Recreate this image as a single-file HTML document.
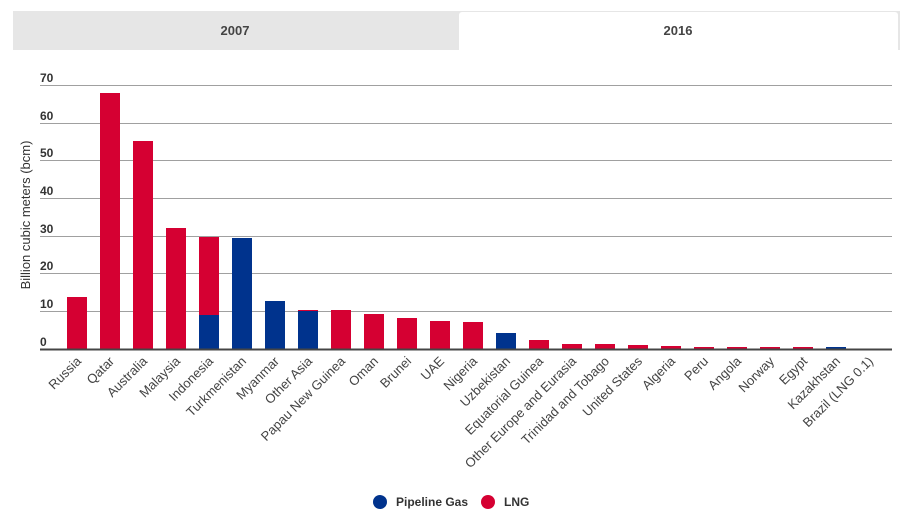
<!DOCTYPE html>
<html><head><style>
body{margin:0;background:#fff;width:913px;height:519px;overflow:hidden;font-family:"Liberation Sans",Arial,sans-serif}
</style></head><body>
<svg width="913" height="519" xmlns="http://www.w3.org/2000/svg" font-family="Liberation Sans, Arial, sans-serif">
<rect x="13" y="11" width="887" height="39" fill="#e6e6e6"/>
<path d="M459 50 V15 a3 3 0 0 1 3 -3 H895 a3 3 0 0 1 3 3 V50 Z" fill="#fff"/>
<text x="235" y="35" font-size="13" font-weight="bold" fill="#444" text-anchor="middle">2007</text>
<text x="678" y="35" font-size="13" font-weight="bold" fill="#444" text-anchor="middle">2016</text>
<g stroke="#a0a0a0" stroke-width="1">
<line x1="40" x2="892" y1="85.5" y2="85.5"/>
<line x1="40" x2="892" y1="123.5" y2="123.5"/>
<line x1="40" x2="892" y1="160.5" y2="160.5"/>
<line x1="40" x2="892" y1="198.5" y2="198.5"/>
<line x1="40" x2="892" y1="236.5" y2="236.5"/>
<line x1="40" x2="892" y1="273.5" y2="273.5"/>
<line x1="40" x2="892" y1="311.5" y2="311.5"/>
</g>
<g font-size="12" font-weight="bold" fill="#333">
<text x="40" y="82">70</text><text x="40" y="120">60</text><text x="40" y="157">50</text>
<text x="40" y="195">40</text><text x="40" y="233">30</text><text x="40" y="270">20</text>
<text x="40" y="308">10</text><text x="40" y="346">0</text>
</g>
<text transform="translate(30,215) rotate(-90)" font-size="13" fill="#333" text-anchor="middle">Billion cubic meters (bcm)</text>
<g fill="#d50032">
<rect x="67" y="297" width="20" height="52"/>
<rect x="100" y="93" width="20" height="256"/>
<rect x="133" y="141" width="20" height="208"/>
<rect x="166" y="228" width="20" height="121"/>
<rect x="199" y="237" width="20" height="112"/>
<rect x="298" y="310" width="20" height="39"/>
<rect x="331" y="310" width="20" height="39"/>
<rect x="364" y="314" width="20" height="35"/>
<rect x="397" y="318" width="20" height="31"/>
<rect x="430" y="321" width="20" height="28"/>
<rect x="463" y="322" width="20" height="27"/>
<rect x="529" y="340" width="20" height="9"/>
<rect x="562" y="344" width="20" height="5"/>
<rect x="595" y="344" width="20" height="5"/>
<rect x="628" y="345" width="20" height="4"/>
<rect x="661" y="346" width="20" height="3"/>
<rect x="694" y="347" width="20" height="2"/>
<rect x="727" y="347" width="20" height="2"/>
<rect x="760" y="347" width="20" height="2"/>
<rect x="793" y="347" width="20" height="2"/>
</g>
<g fill="#00338d">
<rect x="199" y="315" width="20" height="34"/>
<rect x="232" y="238" width="20" height="111"/>
<rect x="265" y="301" width="20" height="48"/>
<rect x="298" y="311" width="20" height="38"/>
<rect x="496" y="333" width="20" height="16"/>
<rect x="826" y="347" width="20" height="2"/>
</g>
<line x1="40" x2="892" y1="349.5" y2="349.5" stroke="#444" stroke-width="2"/>
<g font-size="13" fill="#444" text-anchor="end">
<text transform="translate(82,362) rotate(-45)">Russia</text>
<text transform="translate(115,362) rotate(-45)">Qatar</text>
<text transform="translate(148,362) rotate(-45)">Australia</text>
<text transform="translate(181,362) rotate(-45)">Malaysia</text>
<text transform="translate(214,362) rotate(-45)">Indonesia</text>
<text transform="translate(247,362) rotate(-45)">Turkmenistan</text>
<text transform="translate(280,362) rotate(-45)">Myanmar</text>
<text transform="translate(313,362) rotate(-45)">Other Asia</text>
<text transform="translate(346,362) rotate(-45)">Papau New Guinea</text>
<text transform="translate(379,362) rotate(-45)">Oman</text>
<text transform="translate(412,362) rotate(-45)">Brunei</text>
<text transform="translate(445,362) rotate(-45)">UAE</text>
<text transform="translate(478,362) rotate(-45)">Nigeria</text>
<text transform="translate(511,362) rotate(-45)">Uzbekistan</text>
<text transform="translate(544,362) rotate(-45)">Equatorial Guinea</text>
<text transform="translate(577,362) rotate(-45)">Other Europe and Eurasia</text>
<text transform="translate(610,362) rotate(-45)">Trinidad and Tobago</text>
<text transform="translate(643,362) rotate(-45)">United States</text>
<text transform="translate(676,362) rotate(-45)">Algeria</text>
<text transform="translate(709,362) rotate(-45)">Peru</text>
<text transform="translate(742,362) rotate(-45)">Angola</text>
<text transform="translate(775,362) rotate(-45)">Norway</text>
<text transform="translate(808,362) rotate(-45)">Egypt</text>
<text transform="translate(841,362) rotate(-45)">Kazakhstan</text>
<text transform="translate(874,362) rotate(-45)">Brazil (LNG 0.1)</text>
</g>
<circle cx="380" cy="502" r="7" fill="#00338d"/>
<text x="396" y="506" font-size="12" font-weight="bold" fill="#333">Pipeline Gas</text>
<circle cx="488" cy="502" r="7" fill="#d50032"/>
<text x="504" y="506" font-size="12" font-weight="bold" fill="#333">LNG</text>
</svg>
</body></html>
